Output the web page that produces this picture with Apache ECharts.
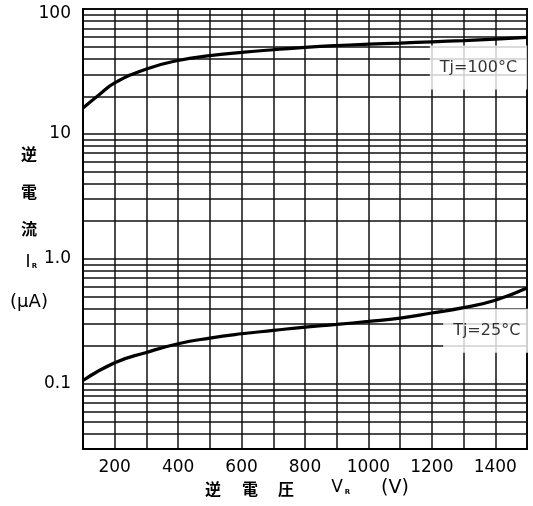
<!DOCTYPE html>
<html>
<head>
<meta charset="utf-8">
<script src="https://cdn.jsdelivr.net/npm/echarts@6/dist/echarts.min.js"></script>
<style>
html,body{margin:0;padding:0;background:#fff;}
#chart{width:533px;height:506px;}
</style>
</head>
<body>
<div id="chart"></div>
<script>
// ---- data ----
const voltages = [100, 150, 200, 300, 400, 500, 600, 700, 800, 900, 1000, 1100, 1200, 1300, 1400, 1500];
const ir100 = [16.1, 20.5, 25.6, 33.1, 38.7, 42.3, 44.9, 47.2, 49.3, 51.0, 52.3, 53.4, 54.6, 55.9, 57.4, 59.3];
const voltages25 = [100, 200, 300, 400, 500, 600, 700, 800, 900, 1000, 1100, 1200, 1300, 1400, 1500];
const ir25 = [0.106, 0.147, 0.178, 0.209, 0.232, 0.251, 0.267, 0.284, 0.298, 0.315, 0.335, 0.368, 0.406, 0.466, 0.583];
const xTickLabels = [200, 400, 600, 800, 1000, 1200, 1400];
const yTickValues = [0.1, 1, 10, 100];
const yTickLabels = ['0.1', '1.0', '10', '100'];
const yMinorTicks = [0.04, 0.05, 0.06, 0.07, 0.08, 0.09,
  0.2, 0.3, 0.4, 0.5, 0.6, 0.7, 0.8, 0.9,
  2, 3, 4, 5, 6, 7, 8, 9,
  20, 30, 40, 50, 60, 70, 80, 90];
const label100 = {text: 'Tj=100°C', at: [1347, 34]};
const label25 = {text: 'Tj=25°C', at: [1373, 0.265]};

const LATIN = 'DejaVu Sans';
const CJK = '"Noto Sans CJK JP"';
const gridColor = '#111';

const chart = echarts.init(document.getElementById('chart'), null, {renderer: 'canvas'});

function pair(xs, ys) { return xs.map((x, i) => [x, ys[i]]); }

function yLabel(v) {
  for (let i = 0; i < yTickValues.length; i++) {
    if (Math.abs(Math.log10(v) - Math.log10(yTickValues[i])) < 1e-6) {
      return i === yTickValues.length - 1 ? '{t|' + yTickLabels[i] + '}' : yTickLabels[i];
    }
  }
  return '';
}

function txt(text, x, y, font) {
  return {type: 'text', x: x, y: y, style: {text: text, font: font, fill: '#000', textAlign: 'center', textVerticalAlign: 'middle'}};
}

const option = {
  animation: false,
  backgroundColor: '#fff',
  grid: {left: 83, right: 6, top: 9, bottom: 57, show: true, borderColor: '#000', borderWidth: 2},
  xAxis: {
    type: 'value', min: 100, max: 1500, interval: 100,
    axisLine: {show: true, lineStyle: {color: '#000', width: 2}},
    axisTick: {show: false},
    splitLine: {show: true, lineStyle: {color: gridColor, width: 1.5}},
    axisLabel: {
      color: '#000', fontFamily: LATIN, fontSize: 17, margin: 10,
      formatter: v => xTickLabels.indexOf(v) >= 0 ? String(v) : ''
    }
  },
  yAxis: {
    type: 'log', logBase: 10, min: 0.03, max: 100,
    axisLine: {show: true, lineStyle: {color: '#000', width: 2}},
    axisTick: {show: false},
    splitLine: {show: true, lineStyle: {color: gridColor, width: 1.5}},
    axisLabel: {
      color: '#000', fontFamily: LATIN, fontSize: 17, margin: 12, formatter: yLabel,
      rich: {t: {fontFamily: LATIN, fontSize: 17, color: '#000', padding: [9, 0, 0, 0]}}
    }
  },
  series: [
    {
      name: 'grid', type: 'line', data: [], silent: true, z: 1,
      markLine: {
        silent: true, symbol: ['none', 'none'], z: 1, animation: false,
        label: {show: false},
        lineStyle: {type: 'solid', color: gridColor, width: 1.5},
        data: yMinorTicks.map(v => ({yAxis: v}))
      }
    },
    {
      name: 'labels', type: 'scatter', symbolSize: 0, z: 2, silent: true,
      data: [label100.at, label25.at],
      label: {
        show: true, position: 'inside', color: '#000', fontFamily: LATIN, fontSize: 16,
        backgroundColor: '#fff', lineHeight: 16,
        formatter: p => p.dataIndex === 0 ? label100.text : label25.text,
        padding: [14, 10]
      }
    },
    {
      name: 'Tj=100°C', type: 'line', smooth: 0.5, showSymbol: false, z: 3,
      lineStyle: {color: '#000', width: 3.2},
      data: pair(voltages, ir100)
    },
    {
      name: 'Tj=25°C', type: 'line', smooth: 0.5, showSymbol: false, z: 3,
      lineStyle: {color: '#000', width: 3.2},
      data: pair(voltages25, ir25)
    }
  ],
  graphic: [
    txt('逆', 29, 154, 'bold 16px ' + CJK),
    txt('電', 29, 192, 'bold 16px ' + CJK),
    txt('流', 29, 229, 'bold 16px ' + CJK),
    txt('I', 28, 263, '17px ' + LATIN),
    txt('R', 34.5, 266.5, 'bold 7px ' + LATIN),
    txt('(μA)', 29, 302, '18px ' + LATIN),
    txt('逆', 213, 489, 'bold 16px ' + CJK),
    txt('電', 250, 489, 'bold 16px ' + CJK),
    txt('圧', 286, 489, 'bold 16px ' + CJK),
    txt('V', 337, 488, '17px ' + LATIN),
    txt('R', 347.5, 492, 'bold 7px ' + LATIN),
    txt('(V)', 395, 488, '19px ' + LATIN)
  ]
};
chart.setOption(option);
</script>
</body>
</html>
